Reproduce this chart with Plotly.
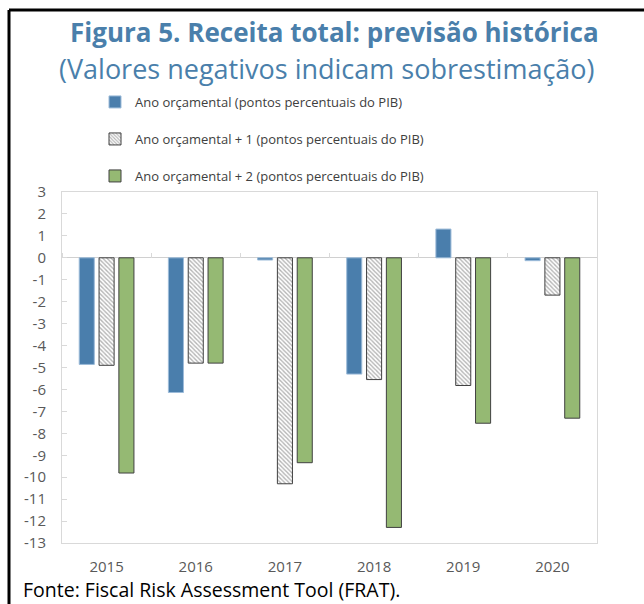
import plotly.graph_objects as go

# ---- data ----
years = ["2015", "2016", "2017", "2018", "2019", "2020"]
ano_orc = [-4.86, -6.14, -0.10, -5.30, 1.31, -0.13]
ano_orc_1 = [-4.90, -4.80, -10.30, -5.55, -5.82, -1.70]
ano_orc_2 = [-9.81, -4.80, -9.34, -12.29, -7.54, -7.31]
series_names = [
    "Ano orçamental (pontos percentuais do PIB)",
    "Ano orçamental + 1 (pontos percentuais do PIB)",
    "Ano orçamental + 2 (pontos percentuais do PIB)",
]
y_tickvals = list(range(-13, 4))
y_ticktext = [str(v) for v in y_tickvals]

title_text = "Figura 5. Receita total: previsão histórica"
subtitle_text = "(Valores negativos indicam sobrestimação)"
source_text = "Fonte: Fiscal Risk Assessment Tool (FRAT)."

# ---- layout geometry (pixels) ----
W, H = 644, 604
L, R, T, B = 62, 597, 192, 543


def px(x):
    return (x - L) / (R - L)


def py(y):
    return (B - y) / (B - T)


FONT = "Open Sans"
BLUE_T = "#4a7fab"

fig = go.Figure()
fig.add_trace(go.Bar(
    x=years, y=ano_orc, name=series_names[0],
    marker=dict(color="#4a7eac", line=dict(color="#9cbbd9", width=1)),
    legend="legend",
))
fig.add_trace(go.Bar(
    x=years, y=ano_orc_1, name=series_names[1],
    marker=dict(color="white", line=dict(color="#404040", width=1),
                pattern=dict(shape="\\", fgcolor="#6a6a6a", bgcolor="white",
                             size=3, solidity=0.45)),
    legend="legend2",
))
fig.add_trace(go.Bar(
    x=years, y=ano_orc_2, name=series_names[2],
    marker=dict(color="#95b973", line=dict(color="#404040", width=1)),
    legend="legend3",
))
# helper trace for boundary tick marks on the zero line
fig.add_trace(go.Bar(x=years, y=[None] * len(years), xaxis="x2",
                     showlegend=False, hoverinfo="skip"))

leg_common = dict(font=dict(family=FONT, size=13, color="#404040"),
                  bgcolor="rgba(0,0,0,0)", xanchor="left", yanchor="middle",
                  x=px(95))
fig.update_layout(
    width=W, height=H,
    margin=dict(l=L, r=W - R, t=T, b=H - B),
    paper_bgcolor="white", plot_bgcolor="white",
    barmode="group", bargap=0.333, bargroupgap=0.24,
    font=dict(family=FONT, color="#595959"),
    legend=dict(**leg_common, y=py(102)),
    legend2=dict(**leg_common, y=py(139)),
    legend3=dict(**leg_common, y=py(176)),
    xaxis=dict(type="category", categoryorder="array", categoryarray=years,
               showline=True, linecolor="#d9d9d9", linewidth=1, mirror=True,
               ticks="", tickfont=dict(size=15, color="#595959"),
               ticklabelstandoff=10, showgrid=False, zeroline=False),
    xaxis2=dict(type="category", categoryorder="array", categoryarray=years,
                overlaying="x", matches="x", anchor="free",
                position=13 / 16, side="top", ticks="outside",
                tickson="boundaries", ticklen=5, tickcolor="#d9d9d9",
                showticklabels=False, showline=False, showgrid=False,
                zeroline=False),
    yaxis=dict(range=[-13, 3], tickvals=y_tickvals, ticktext=y_ticktext,
               ticks="inside", ticklen=5, tickcolor="#d9d9d9",
               showline=True, linecolor="#d9d9d9", linewidth=1, mirror=True,
               showgrid=False, zeroline=True, zerolinecolor="#d0d0d0",
               zerolinewidth=1, tickfont=dict(size=15, color="#595959"),
               ticklabelstandoff=12),
    annotations=[
        dict(text="<b>" + title_text + "</b>", xref="paper", yref="paper",
             x=px(334), y=py(32), xanchor="center", yanchor="middle",
             showarrow=False, font=dict(family=FONT, size=26, color=BLUE_T)),
        dict(text=subtitle_text, xref="paper", yref="paper",
             x=px(327), y=py(69), xanchor="center", yanchor="middle",
             showarrow=False, font=dict(family=FONT, size=27, color=BLUE_T)),
        dict(text=source_text, xref="paper", yref="paper",
             x=px(21), y=py(589), xanchor="left", yanchor="middle",
             showarrow=False, font=dict(family=FONT, size=19.5, color="black")),
    ],
    shapes=[
        dict(type="line", xref="paper", yref="paper", x0=px(9), x1=px(660),
             y0=py(10), y1=py(10), line=dict(color="black", width=3)),
        dict(type="line", xref="paper", yref="paper", x0=px(9), x1=px(9),
             y0=py(10), y1=py(620), line=dict(color="black", width=3)),
    ],
)

fig.write_html("out.html", config={"displayModeBar": False},
               post_script="document.body.style.margin='0';")
